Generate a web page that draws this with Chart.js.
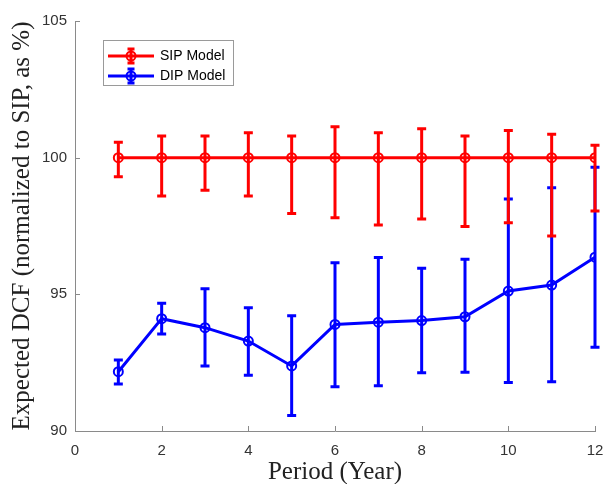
<!DOCTYPE html>
<html lang="en">

<head>
    <meta charset="UTF-8">
    <title>Expected DCF - SIP vs DIP</title>
    <script src="https://cdn.jsdelivr.net/npm/chart.js"></script>
    <style>
        html, body { margin: 0; padding: 0; background: #fff; }
        #wrap { width: 604px; height: 484px; }
    </style>
</head>

<body>
    <div id="wrap"><canvas id="dcfChart" width="604" height="484"></canvas></div>

    <script>
        // data
        const periods = [1, 2, 3, 4, 5, 6, 7, 8, 9, 10, 11, 12];
        const xTicks = [0, 2, 4, 6, 8, 10, 12];
        const yTicks = [90, 95, 100, 105];

        const sipMean = [100, 100, 100, 100, 100, 100, 100, 100, 100, 100, 100, 100];
        const sipUpper = [100.56, 100.79, 100.79, 100.91, 100.79, 101.13, 100.91, 101.06, 100.79, 100.99, 100.86, 100.45];
        const sipLower = [99.30, 98.60, 98.81, 98.60, 97.96, 97.80, 97.54, 97.76, 97.48, 97.62, 97.13, 98.05];

        const dipMean = [92.17, 94.11, 93.78, 93.29, 92.38, 93.90, 93.98, 94.04, 94.18, 95.12, 95.34, 96.36];
        const dipUpper = [92.60, 94.67, 95.20, 94.51, 94.22, 96.16, 96.35, 95.95, 96.28, 98.49, 98.90, 99.65];
        const dipLower = [91.72, 93.55, 92.38, 92.04, 90.57, 91.62, 91.66, 92.13, 92.15, 91.77, 91.80, 93.06];

        const axisGray = '#8a8a8a';

        function toPoints(ys) {
            return periods.map((p, i) => ({ x: p, y: ys[i] }));
        }

        // vertical error bars with caps, drawn just before each dataset's line
        const errorBars = {
            id: 'errorBars',
            beforeDatasetDraw(chart, args) {
                const ds = chart.data.datasets[args.index];
                if (!ds.errUpper) return;
                const { ctx, scales: { x, y } } = chart;
                ctx.save();
                ctx.strokeStyle = ds.borderColor;
                ctx.lineWidth = 3;
                ctx.lineCap = 'butt';
                periods.forEach((p, i) => {
                    const px = x.getPixelForValue(p);
                    const top = y.getPixelForValue(ds.errUpper[i]);
                    const bot = y.getPixelForValue(ds.errLower[i]);
                    ctx.beginPath();
                    ctx.moveTo(px, top); ctx.lineTo(px, bot);
                    ctx.moveTo(px - 4.5, top); ctx.lineTo(px + 4.5, top);
                    ctx.moveTo(px - 4.5, bot); ctx.lineTo(px + 4.5, bot);
                    ctx.stroke();
                });
                ctx.restore();
            }
        };

        // inward tick marks like the original figure
        const innerTicks = {
            id: 'innerTicks',
            afterDraw(chart) {
                const { ctx, scales: { x, y } } = chart;
                ctx.save();
                ctx.strokeStyle = axisGray;
                ctx.lineWidth = 1;
                ctx.beginPath();
                xTicks.forEach(v => {
                    const px = Math.round(x.getPixelForValue(v)) + 0.5;
                    ctx.moveTo(px, y.bottom); ctx.lineTo(px, y.bottom - 5);
                });
                yTicks.forEach(v => {
                    const py = Math.round(y.getPixelForValue(v)) + 0.5;
                    ctx.moveTo(x.left, py); ctx.lineTo(x.left + 5, py);
                });
                ctx.stroke();
                ctx.restore();
            }
        };

        // boxed legend in the upper left corner
        const boxLegend = {
            id: 'boxLegend',
            afterDraw(chart) {
                const ctx = chart.ctx;
                ctx.save();
                ctx.fillStyle = '#fff';
                ctx.strokeStyle = '#9a9a9a';
                ctx.lineWidth = 1;
                ctx.fillRect(103.5, 40.5, 130, 45);
                ctx.strokeRect(103.5, 40.5, 130, 45);
                chart.data.datasets.forEach((ds, i) => {
                    const cy = 56 + i * 20;
                    ctx.strokeStyle = ds.borderColor;
                    ctx.lineWidth = 3;
                    ctx.beginPath();
                    ctx.moveTo(108, cy); ctx.lineTo(154, cy);
                    ctx.moveTo(131, cy - 7); ctx.lineTo(131, cy + 7);
                    ctx.moveTo(127.5, cy - 7); ctx.lineTo(134.5, cy - 7);
                    ctx.moveTo(127.5, cy + 7); ctx.lineTo(134.5, cy + 7);
                    ctx.stroke();
                    ctx.lineWidth = 2;
                    ctx.beginPath();
                    ctx.arc(131, cy, 4.5, 0, Math.PI * 2);
                    ctx.stroke();
                    ctx.fillStyle = '#000';
                    ctx.font = '14px "Liberation Sans", Arial, sans-serif';
                    ctx.textBaseline = 'middle';
                    ctx.fillText(ds.label, 160, cy + 0.5);
                });
                ctx.restore();
            }
        };

        const chart = new Chart(document.getElementById('dcfChart').getContext('2d'), {
            type: 'line',
            data: {
                datasets: [
                    {
                        label: 'SIP Model',
                        data: toPoints(sipMean),
                        errUpper: sipUpper,
                        errLower: sipLower,
                        borderColor: '#ff0000',
                        borderWidth: 3,
                        pointRadius: 4.5,
                        pointBorderWidth: 2,
                        pointBackgroundColor: 'rgba(0,0,0,0)',
                        pointBorderColor: '#ff0000',
                        tension: 0
                    },
                    {
                        label: 'DIP Model',
                        data: toPoints(dipMean),
                        errUpper: dipUpper,
                        errLower: dipLower,
                        borderColor: '#0000ff',
                        borderWidth: 3,
                        pointRadius: 4.5,
                        pointBorderWidth: 2,
                        pointBackgroundColor: 'rgba(0,0,0,0)',
                        pointBorderColor: '#0000ff',
                        tension: 0
                    }
                ]
            },
            options: {
                responsive: false,
                animation: false,
                devicePixelRatio: 1,
                layout: { padding: { top: 21, right: 9, bottom: 0, left: 0 } },
                plugins: {
                    legend: { display: false },
                    tooltip: { enabled: false }
                },
                scales: {
                    x: {
                        type: 'linear',
                        min: 0,
                        max: 12,
                        afterBuildTicks: s => { s.ticks = xTicks.map(v => ({ value: v })); },
                        afterFit: s => { s.height = 53; s.paddingLeft = 0; s.paddingRight = 0; },
                        grid: { display: false, drawTicks: false },
                        border: { color: axisGray, width: 1 },
                        ticks: {
                            padding: 11,
                            color: '#333',
                            font: { family: '"Liberation Sans", Arial, sans-serif', size: 15 }
                        },
                        title: {
                            display: true,
                            text: 'Period (Year)',
                            color: '#222',
                            padding: 0,
                            font: { family: '"Liberation Serif", "Times New Roman", serif', size: 25, lineHeight: 0.9 }
                        }
                    },
                    y: {
                        min: 90,
                        max: 105,
                        afterBuildTicks: s => { s.ticks = yTicks.map(v => ({ value: v })); },
                        afterFit: s => { s.width = 75; s.paddingTop = 0; s.paddingBottom = 0; },
                        grid: { display: false, drawTicks: false },
                        border: { color: axisGray, width: 1 },
                        ticks: {
                            padding: 8,
                            color: '#333',
                            font: { family: '"Liberation Sans", Arial, sans-serif', size: 15 }
                        },
                        title: {
                            display: true,
                            text: 'Expected DCF (normalized to SIP, as %)',
                            color: '#222',
                            padding: { top: 7, bottom: 0 },
                            font: { family: '"Liberation Serif", "Times New Roman", serif', size: 25, lineHeight: 1.2 }
                        }
                    }
                }
            },
            plugins: [errorBars, innerTicks, boxLegend]
        });
    </script>
</body>

</html>
